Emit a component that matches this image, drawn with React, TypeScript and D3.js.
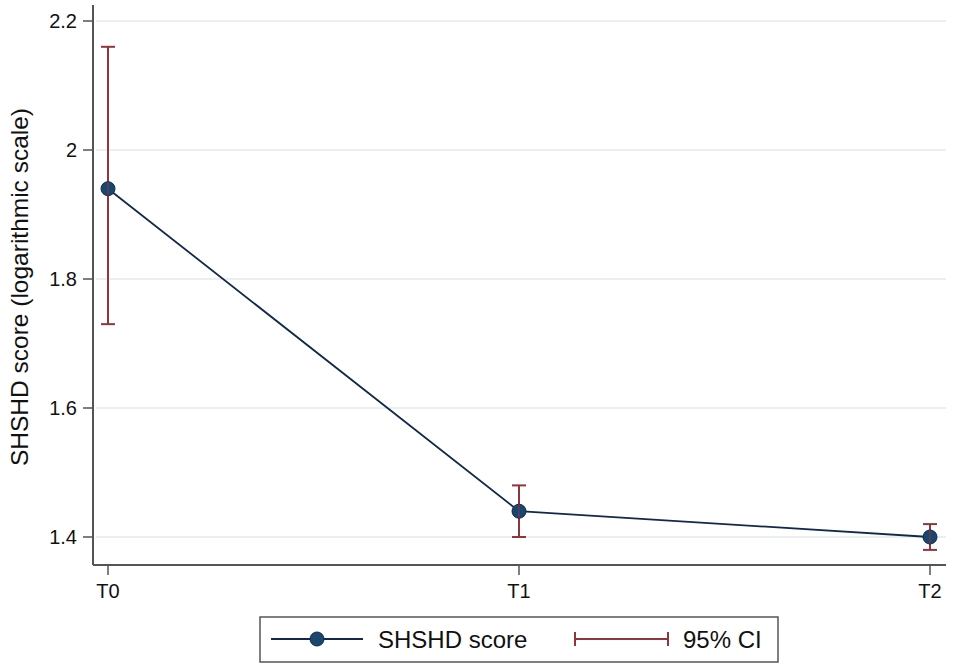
import React from 'react';
import * as d3 from 'd3';

const timepoints = ['T0', 'T1', 'T2'];
const meanScore = [1.94, 1.44, 1.40];
const ciLower = [1.73, 1.40, 1.38];
const ciUpper = [2.16, 1.48, 1.42];
const yTicks = [1.4, 1.6, 1.8, 2, 2.2];

const W = 957;
const H = 669;
const lineColor = '#13294a';
const markerFill = '#1a476f';
const ciColor = '#90353b';
const axisColor = '#555';
const gridColor = '#e3eaea';
const font = 'Arial, "Liberation Sans", Helvetica, sans-serif';

export default function App() {
  const x = d3.scalePoint<string>().domain(timepoints).range([108, 930]);
  const y = d3.scaleLinear().domain([1.4, 2.2]).range([537, 21]);

  const line = d3.line<number>()
    .x((_, i) => x(timepoints[i])!)
    .y(d => y(d));

  const plotLeft = 93;
  const plotRight = 946;
  const plotBottom = 565;
  const plotTop = 5;
  const cap = 7;

  return (
    <svg width={W} height={H} style={{ position: 'absolute', left: 0, top: 0, background: '#fff' }} fontFamily={font}>
      {/* gridlines */}
      {yTicks.map(t => (
        <line key={'g' + t} x1={plotLeft + 3} x2={plotRight} y1={y(t)} y2={y(t)} stroke={gridColor} strokeWidth={1.5} />
      ))}
      {/* y axis */}
      <line x1={plotLeft} x2={plotLeft} y1={plotTop} y2={plotBottom} stroke={axisColor} strokeWidth={2} />
      {yTicks.map(t => (
        <g key={'y' + t}>
          <line x1={plotLeft - 10} x2={plotLeft} y1={y(t)} y2={y(t)} stroke={axisColor} strokeWidth={1.5} />
          <text x={77} y={y(t)} dy="0.37em" textAnchor="end" fontSize={20} fill="#111">{d3.format('')(t)}</text>
        </g>
      ))}
      {/* x axis */}
      <line x1={plotLeft} x2={plotRight} y1={plotBottom} y2={plotBottom} stroke={axisColor} strokeWidth={2} />
      {timepoints.map(t => (
        <g key={'x' + t}>
          <line x1={x(t)!} x2={x(t)!} y1={plotBottom} y2={plotBottom + 10} stroke={axisColor} strokeWidth={1.5} />
          <text x={x(t)!} y={598} textAnchor="middle" fontSize={20} fill="#111">{t}</text>
        </g>
      ))}
      {/* y label */}
      <text transform="translate(28,287) rotate(-90)" textAnchor="middle" fontSize={24.5} fill="#111">
        SHSHD score (logarithmic scale)
      </text>
      {/* CI bars */}
      {timepoints.map((t, i) => (
        <g key={'ci' + t} stroke={ciColor} strokeWidth={2}>
          <line x1={x(t)!} x2={x(t)!} y1={y(ciLower[i])} y2={y(ciUpper[i])} />
          <line x1={x(t)! - cap} x2={x(t)! + cap} y1={y(ciLower[i])} y2={y(ciLower[i])} />
          <line x1={x(t)! - cap} x2={x(t)! + cap} y1={y(ciUpper[i])} y2={y(ciUpper[i])} />
        </g>
      ))}
      {/* mean line */}
      <path d={line(meanScore) || ''} fill="none" stroke={lineColor} strokeWidth={1.8} />
      {meanScore.map((v, i) => (
        <circle key={'m' + i} cx={x(timepoints[i])!} cy={y(v)} r={7} fill={markerFill} stroke={lineColor} strokeWidth={1} />
      ))}
      {timepoints.map((t, i) => (
        <line key={'cv' + t} x1={x(t)!} x2={x(t)!} y1={y(meanScore[i]) - 7} y2={y(meanScore[i]) + 7} stroke={ciColor} strokeWidth={1.5} opacity={0.7} />
      ))}
      {/* legend */}
      <rect x={260} y={617} width={518} height={45} fill="#fff" stroke={axisColor} strokeWidth={1.5} />
      <line x1={271} x2={363} y1={639} y2={639} stroke={lineColor} strokeWidth={2} />
      <circle cx={317} cy={639} r={7} fill={markerFill} stroke={lineColor} strokeWidth={1} />
      <text x={378} y={648} fontSize={24} fill="#111">SHSHD score</text>
      <g stroke={ciColor} strokeWidth={2}>
        <line x1={575} x2={668} y1={639} y2={639} />
        <line x1={575} x2={575} y1={632} y2={646} />
        <line x1={668} x2={668} y1={632} y2={646} />
      </g>
      <text x={683} y={648} fontSize={24} fill="#111">95% CI</text>
    </svg>
  );
}
